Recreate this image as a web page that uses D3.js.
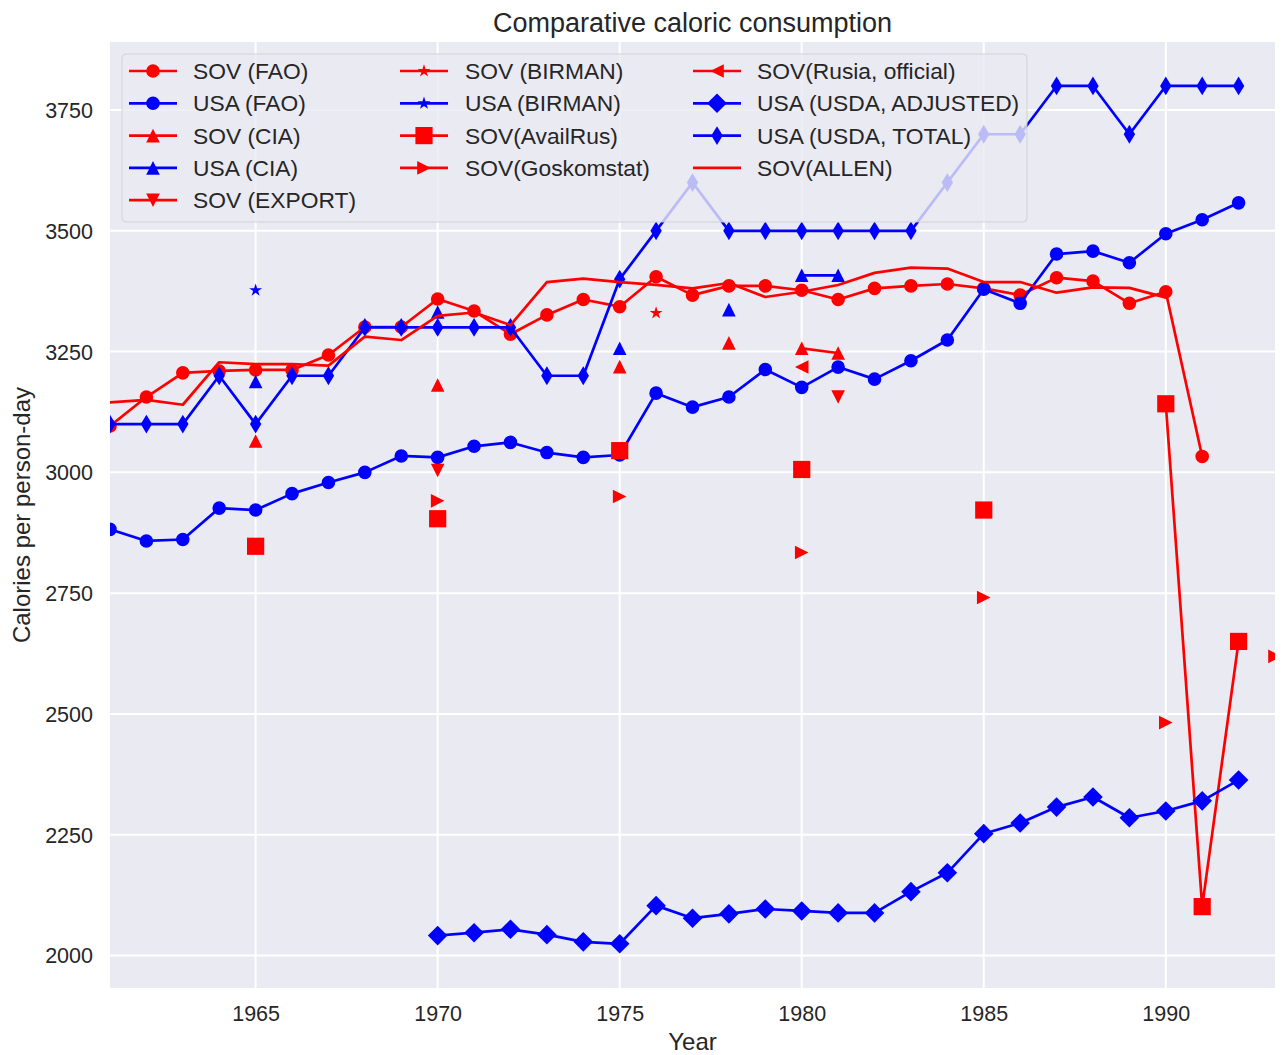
<!DOCTYPE html>
<html>
<head>
<meta charset="utf-8">
<script src="https://cdn.jsdelivr.net/npm/d3@7"></script>
<style>
  html, body { margin: 0; padding: 0; background: #ffffff; }
  svg { display: block; }
  text { font-family: "Liberation Sans", Arial, "DejaVu Sans", sans-serif; fill: #262626; }
</style>
</head>
<body>
<svg id="chart" width="1282" height="1055"></svg>
<script>
// ---------------- DATA ----------------
const years = [1961,1962,1963,1964,1965,1966,1967,1968,1969,1970,1971,1972,1973,1974,1975,1976,1977,
               1978,1979,1980,1981,1982,1983,1984,1985,1986,1987,1988,1989,1990,1991,1992,1993];

const sovFAO = [3096,3156,3206,3210,3212,3212,3243,3301,3301,3359,3334,3286,3326,3358,3343,3405,3367,
                3386,3386,3377,3358,3381,3386,3390,3381,3367,3403,3396,3350,3374,3033,null,null];
const usaFAO = [2882,2858,2861,2926,2922,2956,2979,3000,3034,3031,3054,3062,3041,3031,3036,3164,3135,
                3156,3213,3176,3218,3193,3231,3274,3379,3350,3452,3458,3434,3494,3523,3558,null];
const sovCIA = [null,null,null,null,3065,null,null,null,null,3181,null,null,null,null,3219,null,null,
                3268,null,3257,3247,null,null,null,null,null,null,null,null,null,null,null,null];
const usaCIA = [null,null,null,null,3188,null,null,null,null,3332,null,null,null,null,3257,null,null,
                3337,null,3408,3408,null,null,null,null,null,null,null,null,null,null,null,null];
const sovExport = [null,null,null,null,null,null,null,null,null,3004,null,null,null,null,null,null,null,
                   null,null,null,3156,null,null,null,null,null,null,null,null,null,null,null,null];
const sovBirman = [null,null,null,null,null,null,null,null,null,null,null,null,null,null,null,3330,null,
                   null,null,null,null,null,null,null,null,null,null,null,null,null,null,null,null];
const usaBirman = [null,null,null,null,3377,null,null,null,null,null,null,null,null,null,null,null,null,
                   null,null,null,null,null,null,null,null,null,null,null,null,null,null,null,null];
const sovAvailRus = [null,null,null,null,2847,null,null,null,null,2904,null,null,null,null,3045,null,null,
                     null,null,3006,null,null,null,null,2922,null,null,null,null,3142,2101,2650,null];
const sovGoskomstat = [null,null,null,null,null,null,null,null,null,2941,null,null,null,null,2950,null,null,
                       null,null,2834,null,null,null,null,2741,null,null,null,null,2482,null,null,2619];
const sovRusOfficial = [null,null,null,null,null,null,null,null,null,null,null,null,null,null,null,null,null,
                        null,null,3218,null,null,null,null,null,null,null,null,null,null,null,null,null];
const usaUSDAAdjusted = [null,null,null,null,null,null,null,null,null,2041,2047,2054,2043,2028,2024,2103,2077,
                         2086,2096,2092,2088,2088,2132,2171,2252,2274,2307,2328,2285,2299,2320,2363,null];
const usaUSDATotal = [3100,3100,3100,3200,3100,3200,3200,3300,3300,3300,3300,3300,3200,3200,3400,3500,3600,
                      3500,3500,3500,3500,3500,3500,3600,3700,3700,3800,3800,3700,3800,3800,3800,null];
const sovAllen = [3145,3150,3140,3228,3224,3224,3221,3281,3274,3324,3331,3305,3394,3401,3394,3388,3381,
                  3392,3363,3374,3388,3413,3424,3422,3394,3394,3372,3383,3382,3362,null,null,null];

const seriesNames = ["SOV (FAO)","USA (FAO)","SOV (CIA)","USA (CIA)","SOV (EXPORT)",
                     "SOV (BIRMAN)","USA (BIRMAN)","SOV(AvailRus)","SOV(Goskomstat)",
                     "SOV(Rusia, official)","USA (USDA, ADJUSTED)","USA (USDA, TOTAL)","SOV(ALLEN)"];
const seriesValues = [sovFAO, usaFAO, sovCIA, usaCIA, sovExport, sovBirman, usaBirman,
                      sovAvailRus, sovGoskomstat, sovRusOfficial, usaUSDAAdjusted, usaUSDATotal, sovAllen];
const seriesColors = ["#ff0000","#0000ff","#ff0000","#0000ff","#ff0000","#ff0000","#0000ff",
                      "#ff0000","#ff0000","#ff0000","#0000ff","#0000ff","#ff0000"];
const seriesMarkers = ["circle","circle","tri-up","tri-up","tri-down","star","star",
                       "square","tri-right","tri-left","diamond","thin-diamond","none"];

const xTicks = [1965,1970,1975,1980,1985,1990];
const yTicks = [2000,2250,2500,2750,3000,3250,3500,3750];

// ---------------- LAYOUT ----------------
const svg = d3.select("#chart");
const plot = {left: 110, right: 1275, top: 42, bottom: 988};
const x = d3.scaleLinear().domain([1961, 1993]).range([plot.left, plot.right]);
const y = d3.scaleLinear().domain([1932.5, 3891]).range([plot.bottom, plot.top]);

const tickFont = 21.5, labelFont = 24, titleFont = 27, legendFont = 22.8;

// axes background
svg.append("rect").attr("x", plot.left).attr("y", plot.top)
  .attr("width", plot.right - plot.left).attr("height", plot.bottom - plot.top)
  .attr("fill", "#eaeaf2");

// grid
const grid = svg.append("g");
grid.selectAll("line.gx").data(xTicks).join("line")
  .attr("x1", d => x(d)).attr("x2", d => x(d))
  .attr("y1", plot.top).attr("y2", plot.bottom)
  .attr("stroke", "#ffffff").attr("stroke-width", 2);
grid.selectAll("line.gy").data(yTicks).join("line")
  .attr("x1", plot.left).attr("x2", plot.right)
  .attr("y1", d => y(d)).attr("y2", d => y(d))
  .attr("stroke", "#ffffff").attr("stroke-width", 2);

// axes tick labels via d3 axes (no lines)
const xAxis = svg.append("g").attr("transform", `translate(0,${plot.bottom})`)
  .call(d3.axisBottom(x).tickValues(xTicks).tickFormat(d3.format("d")).tickSize(0).tickPadding(0));
xAxis.select(".domain").remove();
xAxis.selectAll("text").attr("font-size", tickFont).attr("dy", null).attr("y", 33)
  .style("font-family", '"Liberation Sans", Arial, sans-serif').attr("fill", "#262626");

const yAxis = svg.append("g").attr("transform", `translate(${plot.left},0)`)
  .call(d3.axisLeft(y).tickValues(yTicks).tickFormat(d3.format("d")).tickSize(0).tickPadding(0));
yAxis.select(".domain").remove();
yAxis.selectAll("text").attr("font-size", tickFont).attr("x", -17).attr("dy", "0.35em")
  .style("font-family", '"Liberation Sans", Arial, sans-serif').attr("fill", "#262626");

// clip
svg.append("defs").append("clipPath").attr("id", "clip")
  .append("rect").attr("x", plot.left).attr("y", plot.top)
  .attr("width", plot.right - plot.left).attr("height", plot.bottom - plot.top);

// marker paths (matplotlib-like)
const MS = 13.6;
function markerPath(type) {
  const h = MS / 2;
  switch (type) {
    case "circle": { const p = d3.path(); p.arc(0, 0, h, 0, 2 * Math.PI); return p.toString(); }
    case "tri-up": return `M0,${-h}L${-h},${h}L${h},${h}Z`;
    case "tri-down": return `M0,${h}L${-h},${-h}L${h},${-h}Z`;
    case "tri-left": return `M${-h},0L${h},${-h}L${h},${h}Z`;
    case "tri-right": return `M${h},0L${-h},${-h}L${-h},${h}Z`;
    case "square": { const s = 8.6; return `M${-s},${-s}H${s}V${s}H${-s}Z`; }
    case "diamond": { const s = 9.8; return `M0,${-s}L${s},0L0,${s}L${-s},0Z`; }
    case "thin-diamond": { const s = 9.4, w = 5.7; return `M0,${-s}L${w},0L0,${s}L${-w},0Z`; }
    case "star": {
      const R = h, r = h * 0.381966; let pts = [];
      for (let i = 0; i < 10; i++) {
        const a = Math.PI / 2 + i * Math.PI / 5;
        const rr = i % 2 === 0 ? R : r;
        pts.push([rr * Math.cos(a), -rr * Math.sin(a)]);
      }
      return "M" + pts.map(p => p[0].toFixed(2) + "," + p[1].toFixed(2)).join("L") + "Z";
    }
    default: return null;
  }
}

const LW = 2.7;
const dataG = svg.append("g").attr("clip-path", "url(#clip)");
const line = d3.line().defined(d => d.v != null).x(d => x(d.year)).y(d => y(d.v));

seriesValues.forEach((vals, i) => {
  const pts = years.map((yr, j) => ({year: yr, v: vals[j]}));
  const g = dataG.append("g");
  g.append("path").attr("d", line(pts)).attr("fill", "none")
    .attr("stroke", seriesColors[i]).attr("stroke-width", LW)
    .attr("stroke-linejoin", "round").attr("stroke-linecap", "square");
  const mp = markerPath(seriesMarkers[i]);
  if (mp) {
    g.selectAll("path.m").data(pts.filter(d => d.v != null)).join("path")
      .attr("class", "m")
      .attr("d", mp)
      .attr("transform", d => `translate(${x(d.year)},${y(d.v)})`)
      .attr("fill", seriesColors[i]);
  }
});

// legend
const legendBox = {x: 122, y: 54, w: 905, h: 168};
const leg = svg.append("g");
leg.append("rect").attr("x", legendBox.x).attr("y", legendBox.y)
  .attr("width", legendBox.w).attr("height", legendBox.h).attr("rx", 4)
  .attr("fill", "#eaeaf2").attr("fill-opacity", 0.8)
  .attr("stroke", "#cccccc").attr("stroke-opacity", 0.8).attr("stroke-width", 1);

const colHandleX = [129, 400, 693];
const colTextX = [193, 465, 757];
const rowY0 = 71, rowStep = 32.3;
const perCol = [5, 4, 4];
let idx = 0;
perCol.forEach((n, c) => {
  for (let r = 0; r < n; r++, idx++) {
    const cy = rowY0 + r * rowStep;
    const hx = colHandleX[c];
    leg.append("line").attr("x1", hx).attr("x2", hx + 48).attr("y1", cy).attr("y2", cy)
      .attr("stroke", seriesColors[idx]).attr("stroke-width", LW);
    const mp = markerPath(seriesMarkers[idx]);
    if (mp) leg.append("path").attr("d", mp).attr("transform", `translate(${hx + 24},${cy})`)
      .attr("fill", seriesColors[idx]);
    leg.append("text").attr("x", colTextX[c]).attr("y", cy).attr("dy", "0.35em")
      .attr("font-size", legendFont).text(seriesNames[idx]);
  }
});

// title and axis labels
svg.append("text").attr("x", (plot.left + plot.right) / 2).attr("y", 32)
  .attr("text-anchor", "middle").attr("font-size", titleFont)
  .text("Comparative caloric consumption");
svg.append("text").attr("x", (plot.left + plot.right) / 2).attr("y", 1050)
  .attr("text-anchor", "middle").attr("font-size", labelFont).text("Year");
svg.append("text").attr("transform", `translate(30,${(plot.top + plot.bottom) / 2}) rotate(-90)`)
  .attr("text-anchor", "middle").attr("font-size", labelFont).text("Calories per person-day");
</script>
</body>
</html>
